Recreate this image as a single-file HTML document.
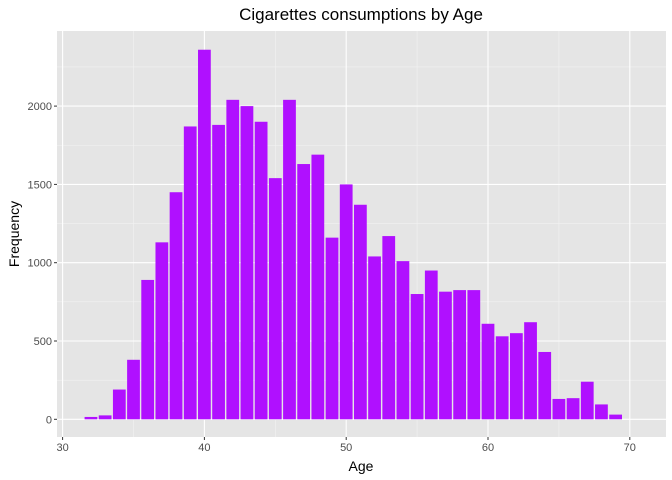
<!DOCTYPE html>
<html><head><meta charset="utf-8"><style>
body{margin:0;background:#fff;font-family:"Liberation Sans",sans-serif}
</style></head><body>
<svg id="c" width="672" height="480" style="display:block">
<rect x="57" y="31" width="609" height="406" fill="#e5e5e5"/>
<g id="grid"></g><g id="bars"></g><g id="axes"></g>
<text x="361" y="20" text-anchor="middle" font-size="17" fill="#000">Cigarettes consumptions by Age</text>
<text x="361" y="471" text-anchor="middle" font-size="14" fill="#000">Age</text>
<text transform="translate(19,234) rotate(-90)" text-anchor="middle" font-size="14" fill="#000">Frequency</text>
</svg>
<script>
const ages=[32,33,34,35,36,37,38,39,40,41,42,43,44,45,46,47,48,49,50,51,52,53,54,55,56,57,58,59,60,61,62,63,64,65,66,67,68,69];
const counts=[15,25,190,380,890,1130,1450,1870,2360,1880,2040,2000,1900,1540,2040,1630,1690,1160,1500,1370,1040,1170,1010,800,950,815,825,825,610,530,550,620,430,130,135,240,95,30];
const xTicks=[30,40,50,60,70];
const yTicks=[0,500,1000,1500,2000];
const L=57,R=666,T=31,B=437;
const xs=v=>62.6+(v-30)*14.18;
const ys=v=>419.3-v*0.1566;
const NS='http://www.w3.org/2000/svg';
function mk(p,t,a){const e=document.createElementNS(NS,t);for(const k in a)e.setAttribute(k,a[k]);p.appendChild(e);return e;}
const g=document.getElementById('grid'),b=document.getElementById('bars'),ax=document.getElementById('axes');
for(let i=0;i<xTicks.length;i++){const m=xTicks[i]+5;if(xs(m)<R){const l=mk(g,'line',{x1:xs(m),x2:xs(m),y1:T,y2:B,stroke:'#f2f2f2','stroke-width':0.6});
 
 }}
for(let i=0;i<yTicks.length;i++){const m=yTicks[i]+250;if(ys(m)>T){const l=mk(g,'line',{x1:L,x2:R,y1:ys(m),y2:ys(m),stroke:'#f2f2f2','stroke-width':0.6});
 
 }}
xTicks.forEach(v=>{const l=mk(g,'line',{x1:xs(v),x2:xs(v),y1:T,y2:B,stroke:'#fff','stroke-width':1.1});
 
 
 const tk=mk(ax,'line',{x1:xs(v),x2:xs(v),y1:B,y2:B+3,stroke:'#333'});
 
 
 const t=mk(ax,'text',{x:xs(v),y:B+14,'text-anchor':'middle','font-size':11,fill:'#4d4d4d'});t.textContent=v;
 
 });
yTicks.forEach(v=>{const l=mk(g,'line',{x1:L,x2:R,y1:ys(v),y2:ys(v),stroke:'#fff','stroke-width':1.1});
 
 
 const tk=mk(ax,'line',{x1:L-3,x2:L,y1:ys(v),y2:ys(v),stroke:'#333'});
 
 
 const t=mk(ax,'text',{x:L-5,y:ys(v)+4,'text-anchor':'end','font-size':11,fill:'#4d4d4d'});t.textContent=v;
 
 });
const w=14.18*0.9;
ages.forEach((a,i)=>{const r=mk(b,'rect',{x:xs(a)-w/2,y:ys(counts[i]),width:w,height:ys(0)-ys(counts[i]),fill:'#b010ff'});
 
 });
</script>
</body></html>
